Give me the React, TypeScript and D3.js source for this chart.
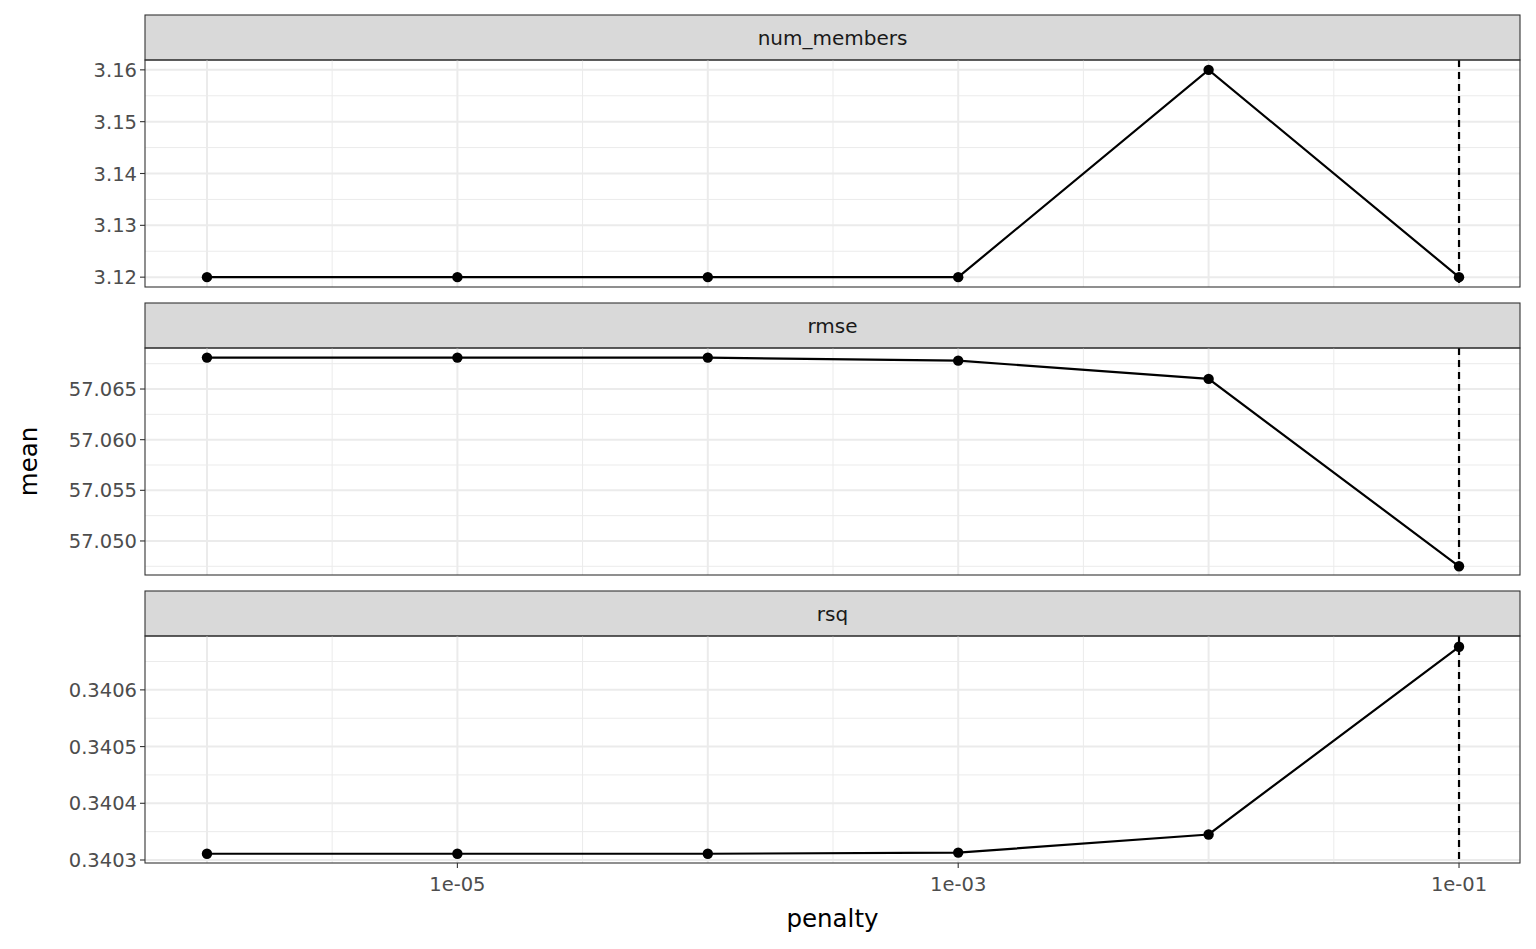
import React from "react";
import * as d3 from "d3";

const penalty = [1e-6, 1e-5, 1e-4, 1e-3, 1e-2, 1e-1];
const numMembers = [3.12, 3.12, 3.12, 3.12, 3.16, 3.12];
const rmse = [57.0681, 57.0681, 57.0681, 57.0678, 57.066, 57.0475];
const rsq = [0.340311, 0.340311, 0.340311, 0.340313, 0.340345, 0.340676];
const xTicks = [1e-5, 1e-3, 1e-1];
const best = 1e-1;

const panels = [
  { name: "num_members", values: numMembers, domain: [3.1181, 3.1619], ticks: [3.12, 3.13, 3.14, 3.15, 3.16], fmt: d3.format(".2f"), top: 15 },
  { name: "rmse", values: rmse, domain: [57.04664, 57.06905], ticks: [57.05, 57.055, 57.06, 57.065], fmt: d3.format(".3f"), top: 303 },
  { name: "rsq", values: rsq, domain: [0.3402947, 0.340695], ticks: [0.3403, 0.3404, 0.3405, 0.3406], fmt: d3.format(".4f"), top: 591 },
];

const L = 145, R = 1520, STRIP = 45, PH = 227;
const font = "DejaVu Sans, Liberation Sans, sans-serif";

export default function App() {
  const x = d3.scaleLog().domain([Math.pow(10, -6.2475), Math.pow(10, -0.7565)]).range([L, R]);
  const xMinor = [3.162e-6, 3.162e-5, 3.162e-4, 3.162e-3, 3.162e-2];
  const xMajorAll = [1e-6, 1e-5, 1e-4, 1e-3, 1e-2, 1e-1];
  return (
    <svg width={1536} height={949} style={{ display: "block", position: "absolute", left: 0, top: 0 }} fontFamily={font}>
      <rect width={1536} height={949} fill="#fff" />
      {panels.map((p) => {
        const t0 = p.top + STRIP;
        const y = d3.scaleLinear().domain(p.domain).range([t0 + PH, t0]);
        const step = p.ticks[1] - p.ticks[0];
        const minor = [p.ticks[0] - step / 2, ...p.ticks.map((t) => t + step / 2)].filter((v) => v > p.domain[0] && v < p.domain[1]);
        const line = d3.line<number>().x((_, i) => x(penalty[i])).y((v) => y(v));
        return (
          <g key={p.name}>
            <rect x={L} y={p.top} width={R - L} height={STRIP} fill="#d9d9d9" stroke="#333" strokeWidth={1.1} />
            <text x={(L + R) / 2} y={p.top + STRIP / 2 + 7} textAnchor="middle" fontSize={20} fill="#1a1a1a">{p.name}</text>
            {minor.map((v) => <line key={"m" + v} x1={L} x2={R} y1={y(v)} y2={y(v)} stroke="#ebebeb" strokeWidth={1} />)}
            {xMinor.map((v) => <line key={"xm" + v} x1={x(v)} x2={x(v)} y1={t0} y2={t0 + PH} stroke="#ebebeb" strokeWidth={1} />)}
            {p.ticks.map((v) => <line key={"M" + v} x1={L} x2={R} y1={y(v)} y2={y(v)} stroke="#ebebeb" strokeWidth={2} />)}
            {xMajorAll.map((v) => <line key={"xM" + v} x1={x(v)} x2={x(v)} y1={t0} y2={t0 + PH} stroke="#ebebeb" strokeWidth={2} />)}
            <line x1={x(best)} x2={x(best)} y1={t0} y2={t0 + PH} stroke="#000" strokeWidth={2.2} strokeDasharray="7,5" />
            <path d={line(p.values) || ""} fill="none" stroke="#000" strokeWidth={2.2} />
            {p.values.map((v, i) => <circle key={i} cx={x(penalty[i])} cy={y(v)} r={5.2} fill="#000" />)}
            <rect x={L} y={t0} width={R - L} height={PH} fill="none" stroke="#333" strokeWidth={1.1} />
            {p.ticks.map((v) => (
              <g key={"t" + v}>
                <line x1={L - 5} x2={L} y1={y(v)} y2={y(v)} stroke="#333" strokeWidth={1.1} />
                <text x={L - 8} y={y(v) + 7} textAnchor="end" fontSize={19.5} fill="#4d4d4d">{p.fmt(v)}</text>
              </g>
            ))}
          </g>
        );
      })}
      {xTicks.map((v) => (
        <g key={v}>
          <line x1={x(v)} x2={x(v)} y1={863} y2={868} stroke="#333" strokeWidth={1.1} />
          <text x={x(v)} y={891} textAnchor="middle" fontSize={19.5} fill="#4d4d4d">{d3.format(".0e")(v).replace(/e([-+])(\d)$/, "e$10$2")}</text>
        </g>
      ))}
      <text x={(L + R) / 2} y={927} textAnchor="middle" fontSize={24.5} fill="#000">penalty</text>
      <text transform={`translate(37,${(60 + 863) / 2}) rotate(-90)`} textAnchor="middle" fontSize={24.5} fill="#000">mean</text>
    </svg>
  );
}
